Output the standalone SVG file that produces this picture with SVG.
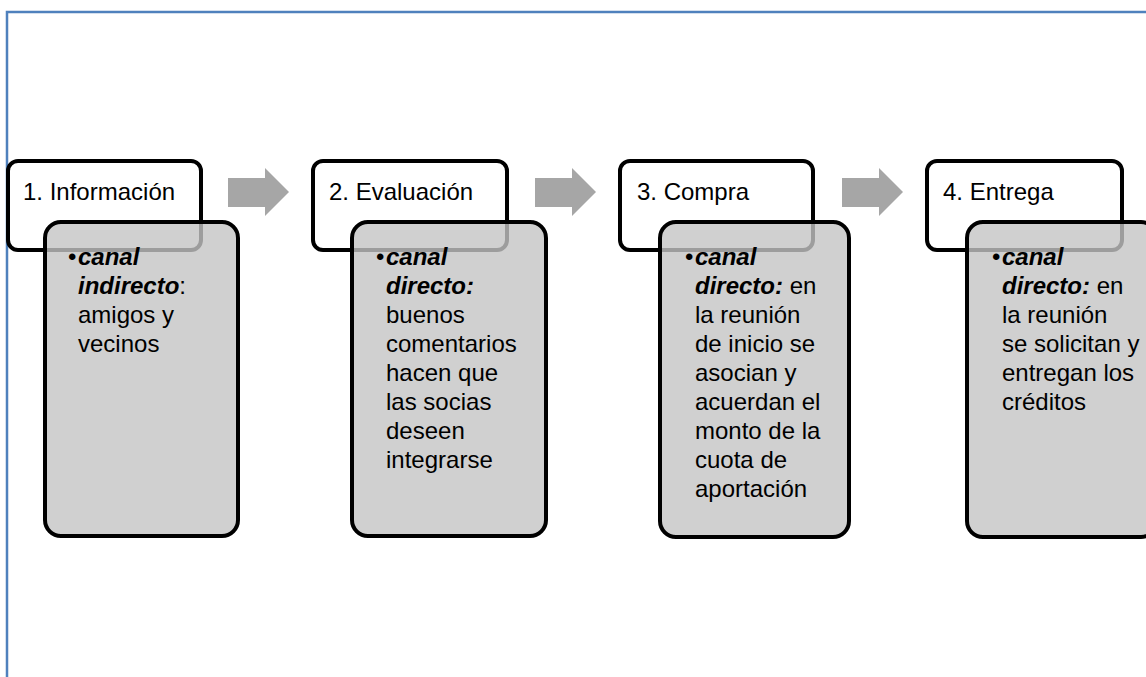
<svg xmlns="http://www.w3.org/2000/svg" width="1146" height="677" viewBox="0 0 1146 677">
<defs>
<style>
.frame{fill:none;stroke:#4f81bd;stroke-width:2.5}
.top{fill:#ffffff;stroke:#000000;stroke-width:4}
.sub{fill:#c4c4c4;fill-opacity:0.8;stroke:#000000;stroke-width:4}
.arrow{fill:#a6a6a6}
text{font-family:"Liberation Sans",Arial,sans-serif;font-size:24px;fill:#000000}
.b{font-weight:bold;font-style:italic}
</style>
</defs>
<rect width="1146" height="677" fill="#ffffff"/>
<path class="frame" d="M7,677 V12 H1146"/>
<g id="connectors">
<polygon class="arrow" points="228,178 265,178 265,168 289,192 265,216 265,207 228,207"/>
<polygon class="arrow" points="535,178 572,178 572,168 596,192 572,216 572,207 535,207"/>
<polygon class="arrow" points="842,178 879,178 879,168 903,192 879,216 879,207 842,207"/>
</g>
<g id="node1">
<rect class="top" x="8" y="161" width="193" height="89" rx="10"/>
<text x="23" y="200">1. Información</text>
<rect class="sub" x="45" y="222" width="193" height="314" rx="16"/>
<text x="68" y="265">•</text>
<text x="78" y="265" class="b">canal</text>
<text x="78" y="294"><tspan class="b">indirecto</tspan>:</text>
<text x="78" y="323">amigos y</text>
<text x="78" y="352">vecinos</text>
</g>
<g id="node2">
<rect class="top" x="313" y="161" width="194" height="89" rx="10"/>
<text x="329" y="200">2. Evaluación</text>
<rect class="sub" x="352" y="222" width="194" height="314" rx="16"/>
<text x="376" y="265">•</text>
<text x="386" y="265" class="b">canal</text>
<text x="386" y="294" class="b">directo:</text>
<text x="386" y="323">buenos</text>
<text x="386" y="352">comentarios</text>
<text x="386" y="381">hacen que</text>
<text x="386" y="410">las socias</text>
<text x="386" y="439">deseen</text>
<text x="386" y="468">integrarse</text>
</g>
<g id="node3">
<rect class="top" x="620" y="161" width="193" height="89" rx="10"/>
<text x="637" y="200">3. Compra</text>
<rect class="sub" x="660" y="222" width="189" height="315" rx="16"/>
<text x="685" y="265">•</text>
<text x="695" y="265" class="b">canal</text>
<text x="695" y="294"><tspan class="b">directo:</tspan> en</text>
<text x="695" y="323">la reunión</text>
<text x="695" y="352">de inicio se</text>
<text x="695" y="381">asocian y</text>
<text x="695" y="410">acuerdan el</text>
<text x="695" y="439">monto de la</text>
<text x="695" y="468">cuota de</text>
<text x="695" y="497">aportación</text>
</g>
<g id="node4">
<rect class="top" x="927" y="161" width="195" height="89" rx="10"/>
<text x="943" y="200">4. Entrega</text>
<rect class="sub" x="967" y="222" width="190" height="315" rx="16"/>
<text x="992" y="265">•</text>
<text x="1002" y="265" class="b">canal</text>
<text x="1002" y="294"><tspan class="b">directo:</tspan> en</text>
<text x="1002" y="323">la reunión</text>
<text x="1002" y="352">se solicitan y</text>
<text x="1002" y="381">entregan los</text>
<text x="1002" y="410">créditos</text>
</g>
</svg>
